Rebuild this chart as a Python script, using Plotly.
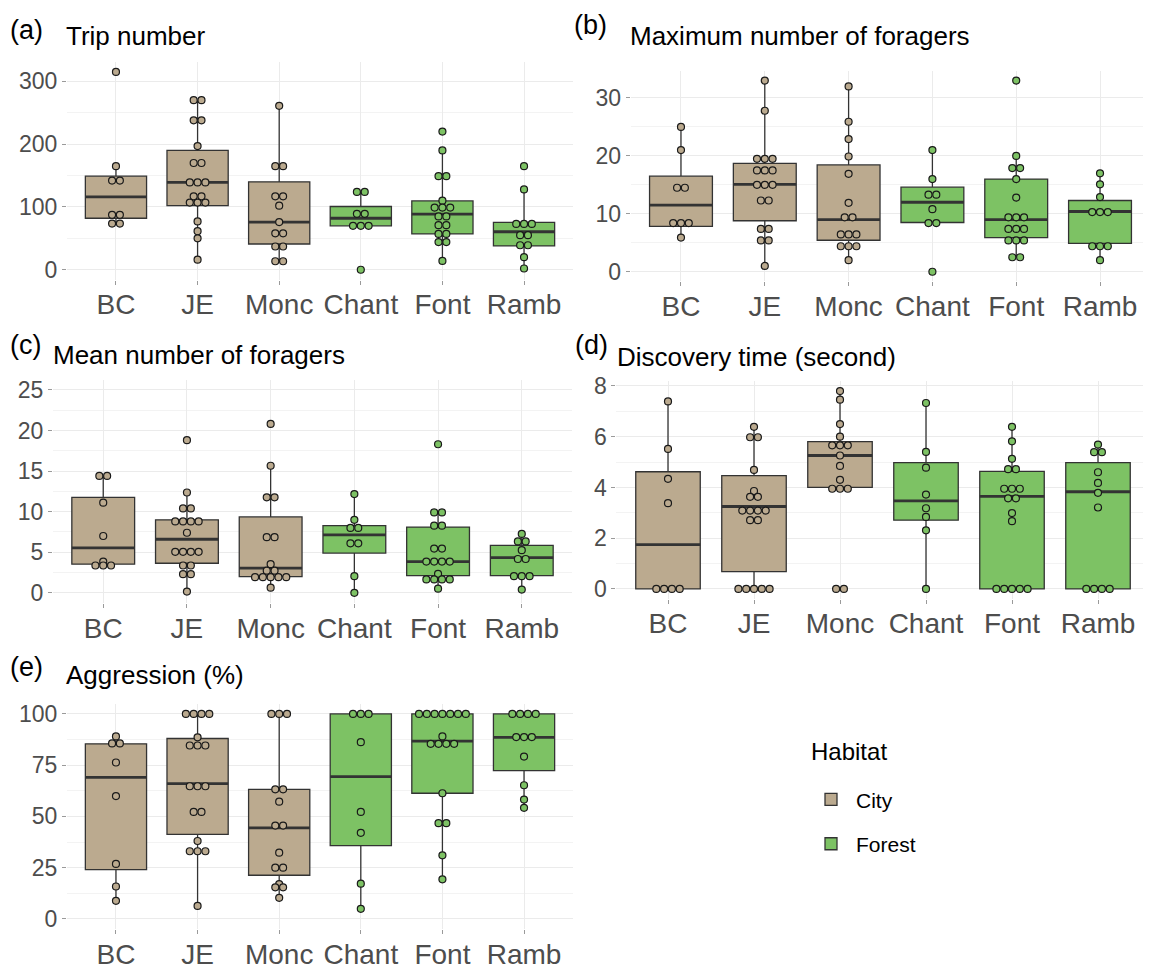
import plotly.graph_objects as go

# The page body has an 8 px margin on every side; the figure is sized so the
# whole page is exactly 1151 x 978 and reference pixel positions are shifted.
OFF_X, OFF_Y = 8, 8
W, H = 1151 - OFF_X, 978 - 2 * OFF_Y

categories = ["BC", "JE", "Monc", "Chant", "Font", "Ramb"]
habitat = ["City", "City", "City", "Forest", "Forest", "Forest"]
CITY_COLOR = "#BBAA8F"
FOREST_COLOR = "#7DC264"

# ---------------- (a) Trip number ----------------
a_q1 = [82, 102, 41, 70, 57, 38]
a_median = [116, 139, 76, 82, 88.7, 60.5]
a_q3 = [149, 190, 140, 100.7, 109.6, 75.6]
a_low = [73, 16, 14, 70, 14, 3]
a_up = [165, 270, 261, 124, 190, 128]
a_dots = {
    "BC": [315, 165, 142, 142, 87.5, 87.5, 73.5, 73.5],
    "JE": [270, 270, 238, 238, 197, 170, 170, 139, 139, 139, 117, 117, 107, 107, 107, 77, 61.5, 50, 16],
    "Monc": [261, 165, 165, 117, 117, 102, 76, 58, 58, 37, 37, 13.5, 13.5],
    "Chant": [124, 124, 89, 89, 70, 70, 70, 0],
    "Font": [220, 190, 149, 149, 110, 99, 99, 99, 85, 85, 71, 71, 57, 57, 44, 44, 14],
    "Ramb": [165, 128, 73, 73, 73, 55, 55, 39, 39, 20, 2],
}

# ---------------- (b) Maximum number of foragers ----------------
b_q1 = [7.85, 8.8, 5.44, 8.5, 5.9, 4.9]
b_median = [11.5, 15.1, 9, 12, 9, 10.4]
b_q3 = [16.5, 18.7, 18.45, 14.6, 16, 12.3]
b_low = [6, 1, 2, 8.5, 2.5, 2]
b_up = [25, 33, 32, 21, 20, 17]
b_dots = {
    "BC": [25, 21, 14.5, 14.5, 8.4, 8.4, 8.4, 5.9],
    "JE": [33, 27.8, 19.5, 19.5, 19.5, 17.5, 17.5, 17.5, 15, 15, 15, 12.3, 12.3, 7.4, 7.4, 5.4, 5.4, 1],
    "Monc": [32, 25.9, 22.9, 19.9, 16.9, 11.9, 9.4, 9.4, 6.45, 6.45, 6.45, 4.4, 4.4, 4.4, 2],
    "Chant": [21, 16, 13.3, 13.3, 10.8, 8.4, 8.4, 0],
    "Font": [33, 20, 17.9, 17.9, 16, 12.8, 9.4, 9.4, 9.4, 7.4, 7.4, 7.4, 5.4, 5.4, 5.4, 2.5, 2.5],
    "Ramb": [17, 15.1, 12.9, 10.3, 10.3, 10.3, 4.4, 4.4, 4.4, 2],
}

# ---------------- (c) Mean number of foragers ----------------
c_q1 = [3.53, 3.65, 2.0, 4.9, 2.13, 2.13]
c_median = [5.54, 6.6, 3.05, 7.14, 3.85, 4.33]
c_q3 = [11.76, 9.0, 9.35, 8.27, 8.1, 5.86]
c_low = [3.37, 0.16, 0.64, 0, 0.52, 0.4]
c_up = [14.4, 12.36, 15.65, 12.16, 9.9, 7.26]
c_dots = {
    "BC": [14.4, 14.4, 11.1, 7, 3.85, 3.37, 3.37, 3.37],
    "JE": [18.8, 12.36, 10.4, 10.4, 8.8, 8.8, 8.8, 8.8, 7.4, 5.06, 5.06, 5.06, 5.06, 3.37, 3.37, 2.3, 2.3, 0.16],
    "Monc": [20.8, 15.65, 11.76, 11.76, 6.86, 6.86, 3.53, 2.73, 2.73, 1.93, 1.93, 1.93, 1.93, 1.93, 0.64],
    "Chant": [12.16, 9, 8, 8, 6.1, 6.1, 2.05, 0],
    "Font": [18.3, 9.9, 9.9, 8.27, 8.27, 5.46, 5.46, 3.85, 3.85, 3.85, 3.85, 2.33, 1.65, 1.65, 1.65, 1.65, 0.52],
    "Ramb": [7.26, 6.34, 6.34, 5.26, 4.17, 4.17, 2.05, 2.05, 2.05, 0.4],
}

# ---------------- (d) Discovery time (second) ----------------
d_q1 = [0, 0.68, 4.0, 2.71, 0, 0]
d_median = [1.75, 3.25, 5.26, 3.47, 3.65, 3.83]
d_q3 = [4.62, 4.47, 5.81, 4.98, 4.63, 4.98]
d_low = [0, 0, 3.95, 0, 0, 0]
d_up = [7.39, 6.39, 7.8, 7.33, 6.39, 5.69]
d_dots = {
    "BC": [7.39, 5.52, 4.34, 3.38, 0, 0, 0, 0],
    "JE": [6.39, 5.98, 5.98, 4.69, 3.86, 3.63, 3.63, 3.09, 3.09, 3.09, 3.09, 2.71, 2.71, 0, 0, 0, 0, 0],
    "Monc": [7.8, 7.46, 6.5, 6.0, 5.66, 5.66, 5.66, 5.26, 4.85, 4.3, 3.95, 3.95, 3.95, 0, 0],
    "Chant": [7.33, 5.4, 4.78, 3.72, 3.18, 2.84, 2.31, 0],
    "Font": [6.39, 5.82, 5.13, 4.72, 4.72, 3.95, 3.95, 3.95, 3.57, 3.57, 2.99, 2.67, 0, 0, 0, 0, 0],
    "Ramb": [5.69, 5.39, 5.39, 4.6, 4.18, 3.79, 3.21, 0, 0, 0, 0],
}

# ---------------- (e) Aggression (%) ----------------
e_q1 = [24, 41.2, 21.3, 35.7, 61.3, 72.3]
e_median = [69, 66, 44.4, 69.4, 86.7, 88.6]
e_q3 = [85.4, 88, 63.2, 100, 100, 100]
e_low = [8.8, 6.3, 10.3, 4.9, 19.3, 54.2]
e_up = [89, 100, 100, 100, 100, 100]
e_dots = {
    "BC": [89, 85.6, 85.6, 76.3, 59.9, 26.8, 15.8, 8.8],
    "JE": [100, 100, 100, 100, 88.6, 84.6, 84.6, 84.6, 64.7, 64.7, 64.7, 52.2, 52.2, 38, 33, 33, 33, 6.3],
    "Monc": [100, 100, 100, 63.2, 63.2, 57.2, 45.5, 45.5, 32.3, 25, 25, 17, 15.4, 15.4, 10.3],
    "Chant": [100, 100, 100, 86.2, 52.2, 42, 17.2, 4.9],
    "Font": [100, 100, 100, 100, 100, 100, 100, 89, 85.4, 85.4, 85.4, 85.4, 61.3, 46.7, 46.7, 31, 19.3],
    "Ramb": [100, 100, 100, 100, 88.7, 88.7, 88.7, 79.2, 65.2, 58.2, 54.2],
}

panels = [
    dict(tag="(a)", title="Trip number", q1=a_q1, med=a_median, q3=a_q3, lo=a_low, up=a_up, dots=a_dots,
         yr=[-15.75, 330.75], dt=100, mdt=50, box=(67, 573, 55.2, 278.1),
         tagpos=(7, 22), titlepos=(64, 28)),
    dict(tag="(b)", title="Maximum number of foragers", q1=b_q1, med=b_median, q3=b_q3, lo=b_low, up=b_up, dots=b_dots,
         yr=[-1.65, 34.65], dt=10, mdt=5, box=(630.7, 1150.3, 64.4, 279.8),
         tagpos=(572, 17), titlepos=(628, 28)),
    dict(tag="(c)", title="Mean number of foragers", q1=c_q1, med=c_median, q3=c_q3, lo=c_low, up=c_up, dots=c_dots,
         yr=[-1.25, 26.25], dt=5, mdt=2.5, box=(53, 572, 380.6, 609.4),
         tagpos=(6, 345), titlepos=(51, 355)),
    dict(tag="(d)", title="Discovery time (second)", q1=d_q1, med=d_median, q3=d_q3, lo=d_low, up=d_up, dots=d_dots,
         yr=[-0.39, 8.19], dt=2, mdt=1, box=(616.4, 1149.6, 382.1, 605.1),
         tagpos=(573, 345), titlepos=(615, 357)),
    dict(tag="(e)", title="Aggression (%)", q1=e_q1, med=e_median, q3=e_q3, lo=e_low, up=e_up, dots=e_dots,
         yr=[-5, 105], dt=25, mdt=12.5, box=(67, 573, 712.5, 943.5),
         tagpos=(8, 675), titlepos=(64, 683)),
]

BOX_WIDTH = 0.75
DOT_PX = 7.8
LINE_COL = "#333333"
TICK_COL = "#4D4D4D"


def fx(px):
    return max(0.0, min(1.0, (px - OFF_X) / W))


def fy(py):
    return max(0.0, min(1.0, 1 - (py - OFF_Y) / H))


fig = go.Figure()
layout_axes = {}
annotations = []

for pi, p in enumerate(panels):
    n = pi + 1
    xa = "x" if n == 1 else f"x{n}"
    ya = "y" if n == 1 else f"y{n}"
    L, R, T, B = p["box"]
    xr = [-0.6, len(categories) - 0.4]
    units_per_px = (xr[1] - xr[0]) / (min(R, OFF_X + W) - L)

    for hab, col in (("City", CITY_COLOR), ("Forest", FOREST_COLOR)):
        idx = [i for i, h in enumerate(habitat) if h == hab]
        fig.add_trace(go.Box(
            x=idx,
            q1=[p["q1"][i] for i in idx],
            median=[p["med"][i] for i in idx],
            q3=[p["q3"][i] for i in idx],
            lowerfence=[p["lo"][i] for i in idx],
            upperfence=[p["up"][i] for i in idx],
            width=BOX_WIDTH,
            fillcolor=col,
            line=dict(color=LINE_COL, width=1.3),
            whiskerwidth=0,
            name=hab,
            legendgroup=hab,
            showlegend=(pi == 0),
            hoverinfo="skip",
            xaxis=xa, yaxis=ya,
        ))

    # thicker median lines
    mx, my = [], []
    for i, m in enumerate(p["med"]):
        mx += [i - BOX_WIDTH / 2, i + BOX_WIDTH / 2, None]
        my += [m, m, None]
    fig.add_trace(go.Scatter(x=mx, y=my, mode="lines", line=dict(color=LINE_COL, width=2.8),
                             showlegend=False, hoverinfo="skip", xaxis=xa, yaxis=ya))

    # centred dot stacks
    for hab, col in (("City", CITY_COLOR), ("Forest", FOREST_COLOR)):
        dx, dy = [], []
        for i, cat in enumerate(categories):
            if habitat[i] != hab:
                continue
            vals = p["dots"][cat]
            counts = {}
            for v in vals:
                counts[v] = counts.get(v, 0) + 1
            for v, c in counts.items():
                for k in range(c):
                    dx.append(i + (k - (c - 1) / 2) * DOT_PX * units_per_px)
                    dy.append(v)
        fig.add_trace(go.Scatter(x=dx, y=dy, mode="markers",
                                 marker=dict(size=7, color=col, line=dict(color="#1A1A1A", width=1.2)),
                                 showlegend=False, hoverinfo="skip", xaxis=xa, yaxis=ya))

    xkey = "xaxis" if n == 1 else f"xaxis{n}"
    ykey = "yaxis" if n == 1 else f"yaxis{n}"
    layout_axes[xkey] = dict(
        domain=[fx(L), fx(R)], range=xr, anchor=ya,
        tickmode="array", tickvals=list(range(len(categories))), ticktext=categories,
        showgrid=True, gridcolor="#EBEBEB", gridwidth=1.1, zeroline=False, showline=False,
        ticks="outside", ticklen=4, tickwidth=1.1, tickcolor="#9A9A9A",
        tickfont=dict(size=28, color=TICK_COL), ticklabelstandoff=-4, fixedrange=True,
    )
    layout_axes[ykey] = dict(
        domain=[fy(B), fy(T)], range=p["yr"], anchor=xa,
        tick0=0, dtick=p["dt"],
        showgrid=True, gridcolor="#EBEBEB", gridwidth=1.1, zeroline=False, showline=False,
        minor=dict(dtick=p["mdt"], tick0=0, showgrid=True, gridcolor="#F3F3F3", gridwidth=0.8),
        ticks="outside", ticklen=4, tickwidth=1.1, tickcolor="#9A9A9A",
        tickfont=dict(size=23, color=TICK_COL), fixedrange=True,
    )

    annotations.append(dict(text=p["tag"], x=fx(p["tagpos"][0]), y=fy(p["tagpos"][1]),
                            xref="paper", yref="paper", xanchor="left", yanchor="middle",
                            showarrow=False, font=dict(size=27, color="#000000")))
    annotations.append(dict(text=p["title"], x=fx(p["titlepos"][0]), y=fy(p["titlepos"][1]),
                            xref="paper", yref="paper", xanchor="left", yanchor="middle",
                            showarrow=False, font=dict(size=26, color="#000000")))

# legend title
annotations.append(dict(text="Habitat", x=fx(809), y=fy(762), xref="paper", yref="paper",
                        xanchor="left", yanchor="middle", showarrow=False,
                        font=dict(size=24, color="#000000")))

fig.update_layout(
    width=W, height=H, autosize=False,
    margin=dict(l=0, r=0, t=0, b=0),
    paper_bgcolor="white", plot_bgcolor="white",
    font=dict(family="Liberation Sans, Arial, sans-serif"),
    boxmode="overlay",
    annotations=annotations,
    legend=dict(
        font=dict(size=21, color="#000000"),
        x=fx(806), y=fy(790), xanchor="left", yanchor="top",
        bgcolor="rgba(0,0,0,0)", tracegroupgap=14, itemwidth=40,
    ),
    **layout_axes,
)

fig.write_html("out.html")
